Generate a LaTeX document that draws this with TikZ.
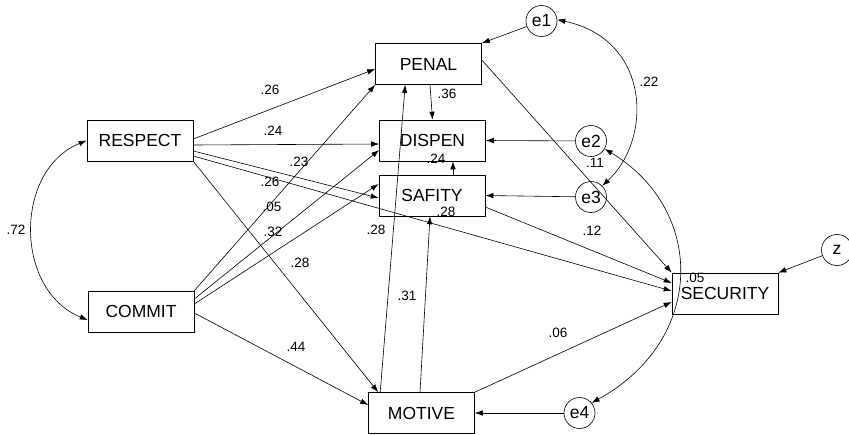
\documentclass[tikz,border=0pt]{standalone}
\usepackage{fontspec}
\setmainfont{Liberation Sans}
\usetikzlibrary{arrows.meta}

\begin{document}
\begin{tikzpicture}[
    x = 1pt, y = -1pt,
    line width = 0.6pt,
    >= {Latex[length=8pt, width=5.5pt]},
    var/.style = {draw, minimum width = 106pt, minimum height = 41pt,
                  inner sep = 0pt, font = \fontsize{17.5}{20}\selectfont},
    err/.style = {draw, circle, minimum size = 31pt, inner sep = 0pt,
                  font = \fontsize{17.5}{19}\selectfont},
    coef/.style = {inner sep = 0pt, font = \fontsize{13.5}{15}\selectfont}]

\useasboundingbox (0,0) rectangle (849,434);

\node[var] (respect)  at (140,140.5) {RESPECT};
\node[var] (commit)   at (141,311.5) {COMMIT};
\node[var] (penal)    at (428.5,64)  {PENAL};
\node[var] (dispen)   at (432.5,140.5) {DISPEN};
\node[var] (safity)   at (432,195.5) {SAFITY};
\node[var] (motive)   at (421.5,413) {MOTIVE};
\node[var] (security) at (725,293.5) {SECURITY};

\node[err] (e1) at (541.5,21)  {e1};
\node[err] (e2) at (591,141)   {e2};
\node[err] (e3) at (591,197)   {e3};
\node[err] (e4) at (579.5,413) {e4};
\node[err] (z)  at (837,250)   {z};

\draw[->] ([yshift=1.5pt]respect.east) -- ([yshift=-5pt]penal.west);
\draw[->] ([yshift=-4.5pt]respect.east) -- ([yshift=-3.5pt]dispen.west);
\draw[->] ([yshift=-10.5pt]respect.east) -- ([yshift=-2.5pt]safity.west);
\draw[->] ([yshift=-15.5pt]respect.east) -- ([yshift=2.5pt]security.west);
\draw[->] (respect.south east) -- ([xshift=10pt]motive.north west);
\draw[->] (commit.north east) -- (penal.south west);
\draw[->] ([yshift=12.5pt]commit.east) -- ([yshift=-9.5pt]dispen.west);
\draw[->] ([yshift=7.5pt]commit.east) -- ([yshift=11.5pt]safity.west);
\draw[->] ([yshift=-1.5pt]commit.east) -- ([yshift=8pt]motive.west);
\draw[->] ([xshift=12pt]motive.north west) -- ([xshift=30pt]penal.south west);
\draw[->] ([xshift=-1.5pt]motive.north) -- ([xshift=-2pt]safity.south);
\draw[->] (motive.north east) -- ([yshift=-8.5pt]security.west);
\draw[->] ([xshift=1.5pt]penal.south) -- (dispen.north);
\draw[->] ([xshift=21pt]safity.north) -- ([xshift=20.5pt]dispen.south);
\draw[->] ([yshift=4pt]penal.east) -- (security.north west);
\draw[->] ([yshift=-11.5pt]safity.east) -- ([yshift=10.5pt]security.west);
\draw[->] (e1) -- (penal.north east);
\draw[->] (e2) -- (dispen.east);
\draw[->] (e3) -- (safity.east);
\draw[->] (e4) -- (motive.east);
\draw[->] (z) -- (security.north east);

\draw[<->] (respect.west) .. controls (14,170) and (14,290) .. ([yshift=-8.5pt]commit.west);
\draw[<->] (e1.5) .. controls (652,40) and (652,140) .. (e3.45);
\draw[<->] (e2.-30) .. controls (706,210) and (706,340) .. (e4.40);

\path (270,90)  node[coef] (rp) {.26}
      (273,131) node[coef] (rd) {.24}
      (299,162) node[coef] (cp) {.23}
      (270,182) node[coef] (rs) {.26}
      (272,207) node[coef] (rsec) {.05}
      (273,232) node[coef] (cd) {.32}
      (300,263) node[coef] (rm) {.28}
      (296,347) node[coef] (cm) {.44}
      (16,230)  node[coef] (rc) {.72}
      (376,230) node[coef] (mp) {.28}
      (407,296) node[coef] (ms) {.31}
      (447,94)  node[coef] (pd) {.36}
      (436,159) node[coef] (rsqd) {.24}
      (446,212) node[coef] (rsqs) {.28}
      (649,82)  node[coef] (cov13) {.22}
      (595,163) node[coef] (cov24) {.11}
      (592,231) node[coef] (ssec) {.12}
      (558,333) node[coef] (msec) {.06}
      (695,278) node[coef] (rsqsec) {.05};
\end{tikzpicture}
\end{document}
